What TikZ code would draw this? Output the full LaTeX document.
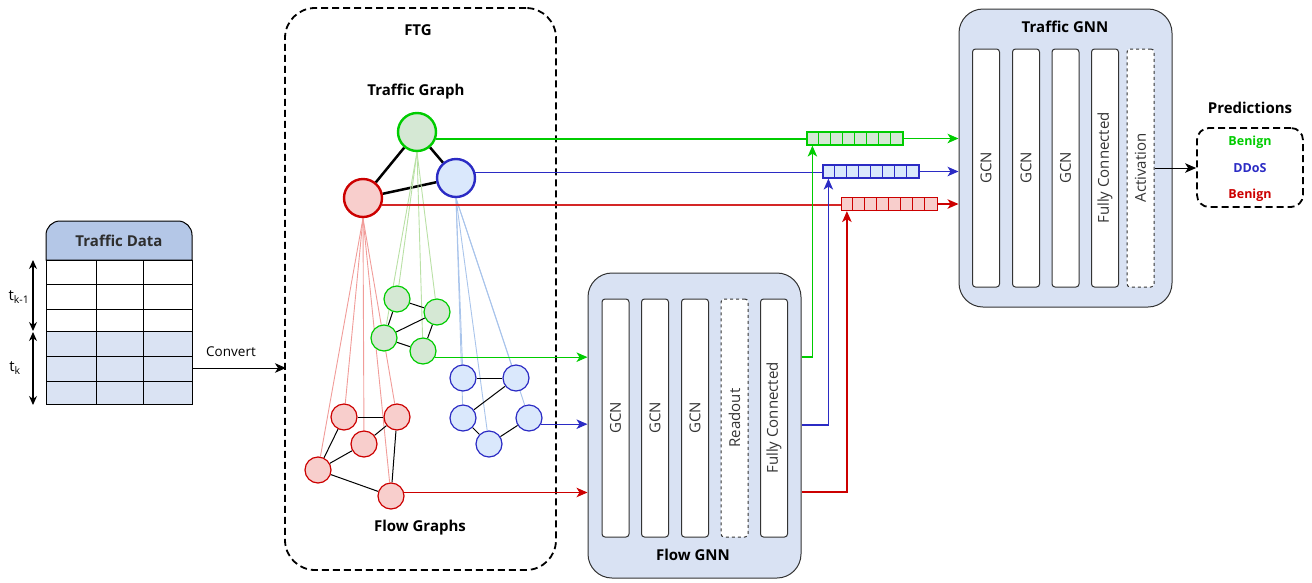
\documentclass[tikz,border=0pt]{standalone}
\usepackage{fontspec}
\setmainfont{Open Sans}
\usetikzlibrary{arrows.meta,backgrounds,calc}
\definecolor{hdr}{HTML}{B4C7E7}
\definecolor{rowblue}{HTML}{DAE3F3}
\definecolor{boxblue}{HTML}{D9E2F3}
\definecolor{cg}{HTML}{00CC00}
\definecolor{cgf}{HTML}{D5E8D4}
\definecolor{cb}{HTML}{2B2BC4}
\definecolor{cbf}{HTML}{DAE8FC}
\definecolor{cr}{HTML}{CC0000}
\definecolor{crf}{HTML}{F8CECC}
\definecolor{lr}{HTML}{F19C99}
\definecolor{lg}{HTML}{B9E0A5}
\definecolor{lb}{HTML}{A9C4EB}
\definecolor{txt}{HTML}{333333}
\begin{document}
\begin{tikzpicture}[x=1pt,y=1pt,font=\fontsize{15}{18}\selectfont,
  tnode/.style={circle,minimum size=38pt,inner sep=0pt,line width=2.4pt},
  fnode/.style={circle,minimum size=26pt,inner sep=0pt,line width=1.2pt},
  layerbox/.style={draw=txt,fill=white,rounded corners=3pt,minimum width=27pt,minimum height=238pt,inner sep=0pt,line width=1pt},
  layertxt/.style={rotate=90,text=txt,inner sep=0pt},
  gnnbox/.style={draw=txt,fill=boxblue,rounded corners=24pt,minimum width=213pt,inner sep=0pt,line width=1pt},
  vecbox/.style={minimum width=96pt,minimum height=13pt,inner sep=0pt,line width=1.2pt},
  arr/.style={-{Stealth[length=11pt,width=9.5pt,inset=3pt]}},
  title/.style={font=\fontsize{15}{18}\selectfont\bfseries,text=black},
  fan/.style={line width=0.9pt},
  fedge/.style={line width=1pt},
  tedge/.style={line width=2.5pt},
]
\useasboundingbox (0,0) rectangle (1312,-582);

% ---------------- Traffic data table
\fill[rowblue] (46,-331) rectangle (192,-404);
\draw[line width=1pt,fill=hdr] (46,-260) -- (46,-235) arc[start angle=180,end angle=90,radius=14] -- (178,-221) arc[start angle=90,end angle=0,radius=14] -- (192,-260) -- cycle;
\node[title,text=txt!90!black] (tdtitle) at (119,-241) {Traffic Data};
\foreach \y in {284,309,331,356,381} \draw[line width=1pt] (46,-\y) -- (192,-\y);
\foreach \x in {96,143} \draw[line width=1pt] (\x,-260) -- (\x,-404);
\node[draw,line width=1pt,minimum width=146pt,minimum height=144pt,inner sep=0pt] (tbl) at (119,-332) {};
\coordinate (ka) at (33,-260);
\coordinate (kb) at (33,-331);
\coordinate (kc) at (33,-332);
\coordinate (kd) at (33,-405);
\draw[{Stealth[length=9pt,width=8pt]}-{Stealth[length=9pt,width=8pt]},line width=1.2pt] (ka) -- (kb);
\draw[{Stealth[length=9pt,width=8pt]}-{Stealth[length=9pt,width=8pt]},line width=1.2pt] (kc) -- (kd);
\node (tkm) at (19,-297) {t\textsubscript{k-1}};
\node (tk) at (15,-368) {t\textsubscript{k}};
\coordinate (cvs) at (tbl.east |- 0,-368);
\coordinate (cve) at (286,-368);
\draw[arr,line width=1pt] (cvs) -- (cve);
\node[font=\fontsize{13.5}{16}\selectfont] (cvl) at (231,-352) {Convert};

% ---------------- FTG
\node[draw,dash pattern=on 7pt off 4pt,line width=1.8pt,rounded corners=30pt,minimum width=271pt,minimum height=562pt,inner sep=0pt] (ftg) at (420.5,-289) {};
\node[title] (ftgt) at (418,-30) {FTG};
\node[title] (tgt) at (416,-92) {Traffic Graph};
\node[title] (fgt) at (420,-528) {Flow Graphs};

% traffic graph nodes
\node[tnode,draw=cg,fill=cgf] (gT) at (417,-132) {};
\node[tnode,draw=cb,fill=cbf] (bT) at (456,-178) {};
\node[tnode,draw=cr,fill=crf] (rT) at (363,-198) {};
\begin{scope}[on background layer]
\draw[tedge] (gT) -- (rT);
\draw[tedge] (gT) -- (bT);
\draw[tedge] (rT) -- (bT);
\end{scope}

% flow graph nodes
\node[fnode,draw=cg,fill=cgf] (g1) at (397,-299) {};
\node[fnode,draw=cg,fill=cgf] (g2) at (437,-312) {};
\node[fnode,draw=cg,fill=cgf] (g3) at (384,-338) {};
\node[fnode,draw=cg,fill=cgf] (g4) at (423,-351) {};

\node[fnode,draw=cb,fill=cbf] (b1) at (463,-378) {};
\node[fnode,draw=cb,fill=cbf] (b2) at (516,-378) {};
\node[fnode,draw=cb,fill=cbf] (b3) at (463,-418) {};
\node[fnode,draw=cb,fill=cbf] (b4) at (529,-418) {};
\node[fnode,draw=cb,fill=cbf] (b5) at (489,-444) {};

\node[fnode,draw=cr,fill=crf] (r1) at (344,-417) {};
\node[fnode,draw=cr,fill=crf] (r2) at (397,-417) {};
\node[fnode,draw=cr,fill=crf] (r3) at (364,-444) {};
\node[fnode,draw=cr,fill=crf] (r4) at (318,-470) {};
\node[fnode,draw=cr,fill=crf] (r5) at (391,-496) {};

\begin{scope}[on background layer]
\foreach \n in {g1,g2,g3,g4} \draw[fan,lg] (gT.south) -- (\n);
\foreach \n in {b1,b2,b3,b4,b5} \draw[fan,lb] (bT.south) -- (\n);
\foreach \n in {r1,r2,r3,r4,r5} \draw[fan,lr] (rT.south) -- (\n);
\draw[fedge] (g1) -- (g2);
\draw[fedge] (g1) -- (g3);
\draw[fedge] (g2) -- (g3);
\draw[fedge] (g3) -- (g4);
\draw[fedge] (g2) -- (g4);
\draw[fedge] (b1) -- (b2);
\draw[fedge] (b2) -- (b3);
\draw[fedge] (b3) -- (b5);
\draw[fedge] (b5) -- (b4);
\draw[fedge] (r1) -- (r2);
\draw[fedge] (r2) -- (r3);
\draw[fedge] (r1) -- (r4);
\draw[fedge] (r3) -- (r4);
\draw[fedge] (r4) -- (r5);
\draw[fedge] (r2) -- (r5);
\end{scope}

% ---------------- Flow GNN
\node[gnnbox,minimum height=305pt] (fgnn) at (694.5,-425.5) {};
\node[title] (fgnnt) at (693,-555) {Flow GNN};
\node[layerbox] (f1) at (615.5,-418) {};
\node[layerbox] (f2) at (655,-418) {};
\node[layerbox] (f3) at (695,-418) {};
\node[layerbox,dashed] (f4) at (734.5,-418) {};
\node[layerbox] (f5) at (774,-418) {};
\node[layertxt] (f1t) at (f1) {GCN};
\node[layertxt] (f2t) at (f2) {GCN};
\node[layertxt] (f3t) at (f3) {GCN};
\node[layertxt] (f4t) at (f4) {Readout};
\node[layertxt] (f5t) at (f5) {Fully Connected};

% inputs to flow GNN
\draw[arr,cg,line width=1.2pt] (g4.-27) -- (g4.-27 -| fgnn.west);
\draw[arr,cb,line width=1.2pt] (b4.-27) -- (b4.-27 -| fgnn.west);
\draw[arr,cr,line width=1.2pt] (r5.15) -- (r5.15 -| fgnn.west);

% ---------------- embedding vectors
\node[vecbox,draw=cg,fill=cgf] (gvec) at (855,-138.5) {};
\node[vecbox,draw=cb,fill=cbf] (bvec) at (871,-171.5) {};
\node[vecbox,draw=cr,fill=crf] (rvec) at (889.5,-204) {};
\foreach \i in {1,...,7} {
  \draw[cg,line width=1pt] ($(gvec.south west)+(12*\i,0)$) -- ($(gvec.north west)+(12*\i,0)$);
  \draw[cb,line width=1pt] ($(bvec.south west)+(12*\i,0)$) -- ($(bvec.north west)+(12*\i,0)$);
  \draw[cr,line width=1pt] ($(rvec.south west)+(12*\i,0)$) -- ($(rvec.north west)+(12*\i,0)$);
}
% traffic node embeddings
\draw[cg,line width=1.2pt] (gT.-20) -- (gT.-20 -| gvec.west);
\draw[cb,line width=1.2pt] (bT.17) -- (bT.17 -| bvec.west);
\draw[cr!85!white,line width=1.2pt] (rT.-20) -- (rT.-20 -| rvec.west);
% flow GNN outputs
\coordinate (go) at (fgnn.east |- 0,-357);
\coordinate (bo) at (fgnn.east |- 0,-425);
\coordinate (ro) at (fgnn.east |- 0,-492);
\draw[arr,cg,line width=1.2pt] (go) -| ($(gvec.south west)+(6,0)$);
\draw[arr,cb,line width=1.2pt] (bo) -| ($(bvec.south west)+(6,0)$);
\draw[arr,cr,line width=1.2pt] (ro) -| ($(rvec.south west)+(6,0)$);

% ---------------- Traffic GNN
\node[gnnbox,minimum height=298pt] (tgnn) at (1065.5,-158) {};
\node[title] (tgnnt) at (1065,-27) {Traffic GNN};
\node[layerbox] (t1) at (986,-168) {};
\node[layerbox] (t2) at (1026,-168) {};
\node[layerbox] (t3) at (1065.5,-168) {};
\node[layerbox] (t4) at (1105,-168) {};
\node[layerbox,dashed] (t5) at (1140.5,-168) {};
\node[layertxt] (t1t) at (t1) {GCN};
\node[layertxt] (t2t) at (t2) {GCN};
\node[layertxt] (t3t) at (t3) {GCN};
\node[layertxt] (t4t) at (t4) {Fully Connected};
\node[layertxt] (t5t) at (t5) {Activation};

\draw[arr,cg,line width=1.2pt] (gvec.east) -- (gvec.east -| tgnn.west);
\draw[arr,cb,line width=1.2pt] (bvec.east) -- (bvec.east -| tgnn.west);
\draw[arr,cr,line width=1.2pt] (rvec.east) -- (rvec.east -| tgnn.west);

% ---------------- Predictions
\node[draw,dash pattern=on 7pt off 4pt,line width=1.8pt,rounded corners=12pt,minimum width=106pt,minimum height=79pt,inner sep=0pt] (pred) at (1250,-167.5) {};
\node[title] (predt) at (1250,-108) {Predictions};
\node[font=\fontsize{12.5}{15}\selectfont\bfseries,text=cg] (p1) at (1250,-142) {Benign};
\node[font=\fontsize{12.5}{15}\selectfont\bfseries,text=cb] (p2) at (1250,-168) {DDoS};
\node[font=\fontsize{12.5}{15}\selectfont\bfseries,text=cr] (p3) at (1250,-195) {Benign};
\draw[arr,line width=1pt] (t5.east |- 0,-168) -- (pred.west |- 0,-168);
\end{tikzpicture}
\end{document}
